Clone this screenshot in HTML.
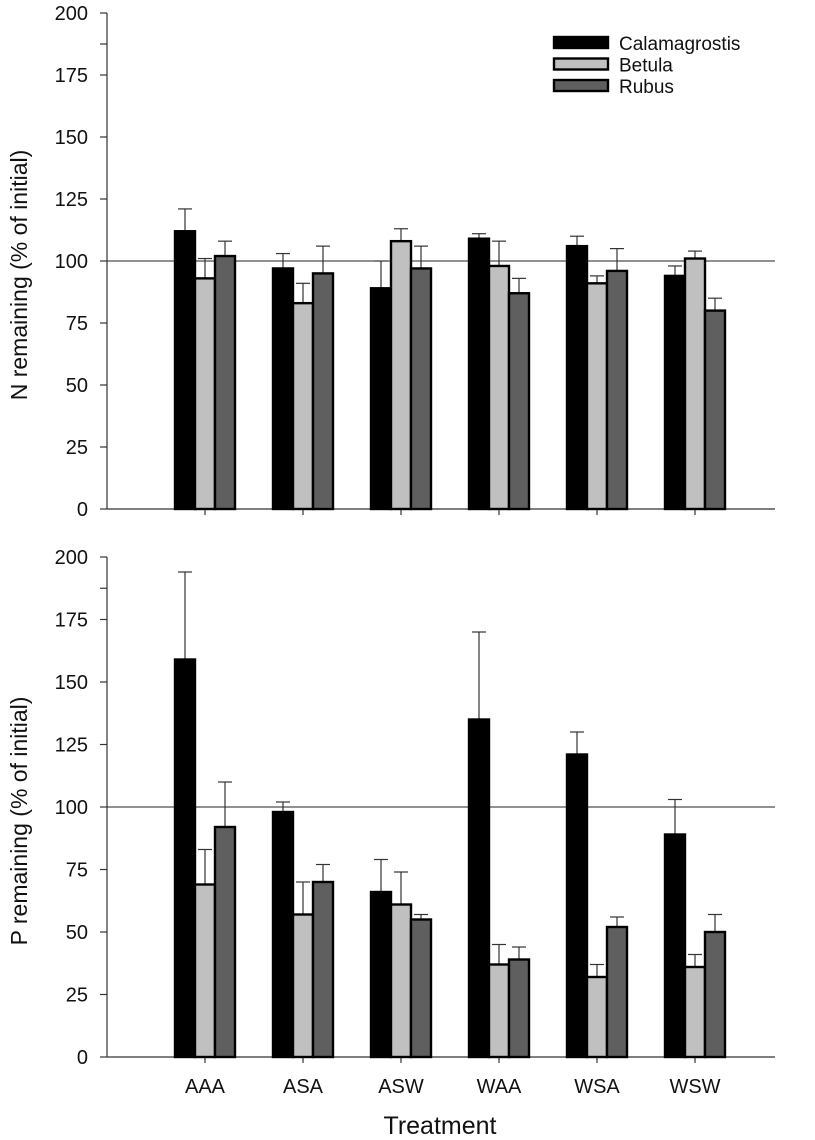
<!DOCTYPE html>
<html><head><meta charset="utf-8"><style>
body{margin:0;background:#fff}
svg{display:block;font-family:"Liberation Sans",sans-serif}
</style></head><body>
<svg id="chart" width="815" height="1140" viewBox="0 0 815 1140" xmlns="http://www.w3.org/2000/svg"></svg>
<script>
const categories = ["AAA","ASA","ASW","WAA","WSA","WSW"];
const seriesNames = ["Calamagrostis","Betula","Rubus"];
const nCalam = [112,97,89,109,106,94];
const nCalamErr = [9,6,11,2,4,4];
const nBetula = [93,83,108,98,91,101];
const nBetulaErr = [8,8,5,10,3,3];
const nRubus = [102,95,97,87,96,80];
const nRubusErr = [6,11,9,6,9,5];
const pCalam = [159,98,66,135,121,89];
const pCalamErr = [35,4,13,35,9,14];
const pBetula = [69,57,61,37,32,36];
const pBetulaErr = [14,13,13,8,5,5];
const pRubus = [92,70,55,39,52,50];
const pRubusErr = [18,7,2,5,4,7];
const yTicks = [0,25,50,75,100,125,150,175,200];

const NS="http://www.w3.org/2000/svg";
const svg=document.getElementById('chart');
function mk(tag,attrs,parent,text){const e=document.createElementNS(NS,tag);for(const k in attrs)e.setAttribute(k,attrs[k]);if(text!==undefined)e.textContent=text;(parent||svg).appendChild(e);return e;}
const fills=["#000","#c0c0c0","#5f5f5f"];
const X0=107,X1=775;
function xc(i){return 205+i*98;}

function panel(name,y0,y200,vals,errs,title,showX){
  const g=mk('g',{},svg);
  
  
  const ys=v=>y0-(y0-y200)*v/200;
  const ax=mk('line',{x1:X0,y1:y200,x2:X0,y2:y0,stroke:'#333','stroke-width':1.2},g);
  
  
  yTicks.forEach(t=>{
    mk('line',{x1:X0-7,y1:ys(t),x2:X0,y2:ys(t),stroke:'#333','stroke-width':1.2},g);
    const tl=mk('text',{x:88,y:ys(t)+7,'text-anchor':'end','font-size':20,fill:'#111'},g,String(t));
    
    
  });
  mk('line',{x1:X0-7,y1:ys(187.5),x2:X0,y2:ys(187.5),stroke:'#333','stroke-width':1.2},g);
  const xa=mk('line',{x1:X0,y1:y0,x2:X1,y2:y0,stroke:'#333','stroke-width':1.2},g);
  
  
  categories.forEach((c,i)=>{
    mk('line',{x1:xc(i),y1:y0,x2:xc(i),y2:y0+6,stroke:'#333','stroke-width':1.2},g);
    if(showX){
      const l=mk('text',{x:xc(i),y:y0+36,'text-anchor':'middle','font-size':20,fill:'#111'},g,c);
      
      
    }
  });
  const rl=mk('line',{x1:X0,y1:ys(100),x2:X1,y2:ys(100),stroke:'#222','stroke-width':1},g);
  
  
  vals.forEach((arr,s)=>{
    arr.forEach((v,i)=>{
      const bx=xc(i)-30+s*20;
      const top=ys(v), e=errs[s][i], et=ys(v+e), cx=bx+10;
      mk('line',{x1:cx,y1:top,x2:cx,y2:et,stroke:'#333','stroke-width':1.2},g);
      mk('line',{x1:cx-7,y1:et,x2:cx+7,y2:et,stroke:'#333','stroke-width':1.2},g);
      const r=mk('rect',{x:bx,y:top,width:20,height:y0-top,fill:fills[s],stroke:'#000','stroke-width':2.4},g);
      
      
    });
  });
  const tt=mk('text',{x:0,y:0,'text-anchor':'middle','font-size':23,fill:'#111',transform:`translate(27,${(y0+y200)/2+14}) rotate(-90)`},g,title);
  
  
}
panel('n',509,13,[nCalam,nBetula,nRubus],[nCalamErr,nBetulaErr,nRubusErr],'N remaining (% of initial)',false);
panel('p',1057,557,[pCalam,pBetula,pRubus],[pCalamErr,pBetulaErr,pRubusErr],'P remaining (% of initial)',true);

const xt=mk('text',{x:440,y:1134,'text-anchor':'middle','font-size':25,fill:'#111'},svg,'Treatment');



const lg=mk('g',{},svg);


seriesNames.forEach((n,s)=>{
  const y=37+s*21.5;
  const r=mk('rect',{x:554,y:y,width:54,height:11,fill:fills[s],stroke:'#000','stroke-width':2.4},lg);
  
  
  const t=mk('text',{x:619,y:y+13,'font-size':19,fill:'#111'},lg,n);
  
  
});
</script>
</body></html>
